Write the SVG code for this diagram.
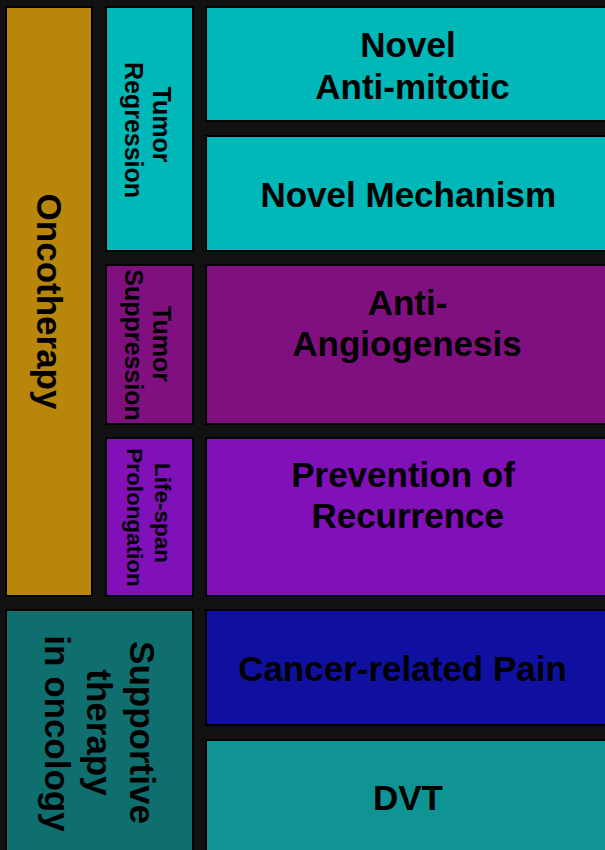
<svg xmlns="http://www.w3.org/2000/svg" width="605" height="850" viewBox="0 0 605 850">
<style>
.box{stroke:#000;stroke-width:2}
text{font-family:"Liberation Sans",Arial,sans-serif;font-weight:bold;fill:#000;text-anchor:middle}
.big{font-size:35px}
.mid{font-size:25px}
.sm{font-size:22.5px}
</style>
<rect x="0" y="0" width="605" height="850" fill="#111111"/>
<g id="oncotherapy">
<rect class="box" x="6" y="7" width="86" height="589" fill="#B8860B"/>
<text class="big" transform="translate(37 301.5) rotate(90)">Oncotherapy</text>
</g>
<g id="tumor-regression">
<rect class="box" x="106" y="7" width="87" height="244" fill="#00B8B8"/>
<text class="mid" transform="translate(153 124.5) rotate(90)">Tumor</text>
<text class="mid" transform="translate(125 130) rotate(90)">Regression</text>
</g>
<g id="tumor-suppression">
<rect class="box" x="106" y="265" width="87" height="159" fill="#801080"/>
<text class="mid" transform="translate(153 344) rotate(90)">Tumor</text>
<text class="mid" transform="translate(125 345) rotate(90)">Suppression</text>
</g>
<g id="life-span">
<rect class="box" x="106" y="438" width="87" height="158" fill="#8010B8"/>
<text class="sm" transform="translate(154.6 513) rotate(90)">Life-span</text>
<text class="sm" transform="translate(127.2 517.5) rotate(90)">Prolongation</text>
</g>
<g id="supportive">
<rect class="box" x="6" y="610" width="187" height="250" fill="#0F6E6E"/>
<text class="big" transform="translate(130 732.5) rotate(90)">Supportive</text>
<text class="big" transform="translate(87 732.5) rotate(90)">therapy</text>
<text class="big" transform="translate(45 733.5) rotate(90)">in oncology</text>
</g>
<g id="novel-anti-mitotic">
<rect class="box" x="206" y="7" width="410" height="114" fill="#00B8B8"/>
<text class="big" x="408" y="56.5">Novel</text>
<text class="big" x="412.5" y="99">Anti-mitotic</text>
</g>
<g id="novel-mechanism">
<rect class="box" x="206" y="136" width="410" height="115" fill="#00B8B8"/>
<text class="big" x="408.3" y="206.5">Novel Mechanism</text>
</g>
<g id="anti-angiogenesis">
<rect class="box" x="206" y="265" width="410" height="159" fill="#801080"/>
<text class="big" x="407.5" y="315">Anti-</text>
<text class="big" x="407" y="356">Angiogenesis</text>
</g>
<g id="prevention">
<rect class="box" x="206" y="438" width="410" height="158" fill="#8010B8"/>
<text class="big" x="403" y="487.3">Prevention of</text>
<text class="big" x="407.7" y="528.3">Recurrence</text>
</g>
<g id="cancer-pain">
<rect class="box" x="206" y="610" width="410" height="115" fill="#1010A0"/>
<text class="big" x="402.5" y="680.7">Cancer-related Pain</text>
</g>
<g id="dvt">
<rect class="box" x="206" y="740" width="410" height="120" fill="#0F9393"/>
<text class="big" x="408" y="810">DVT</text>
</g>
<g id="connectors"></g>
</svg>
